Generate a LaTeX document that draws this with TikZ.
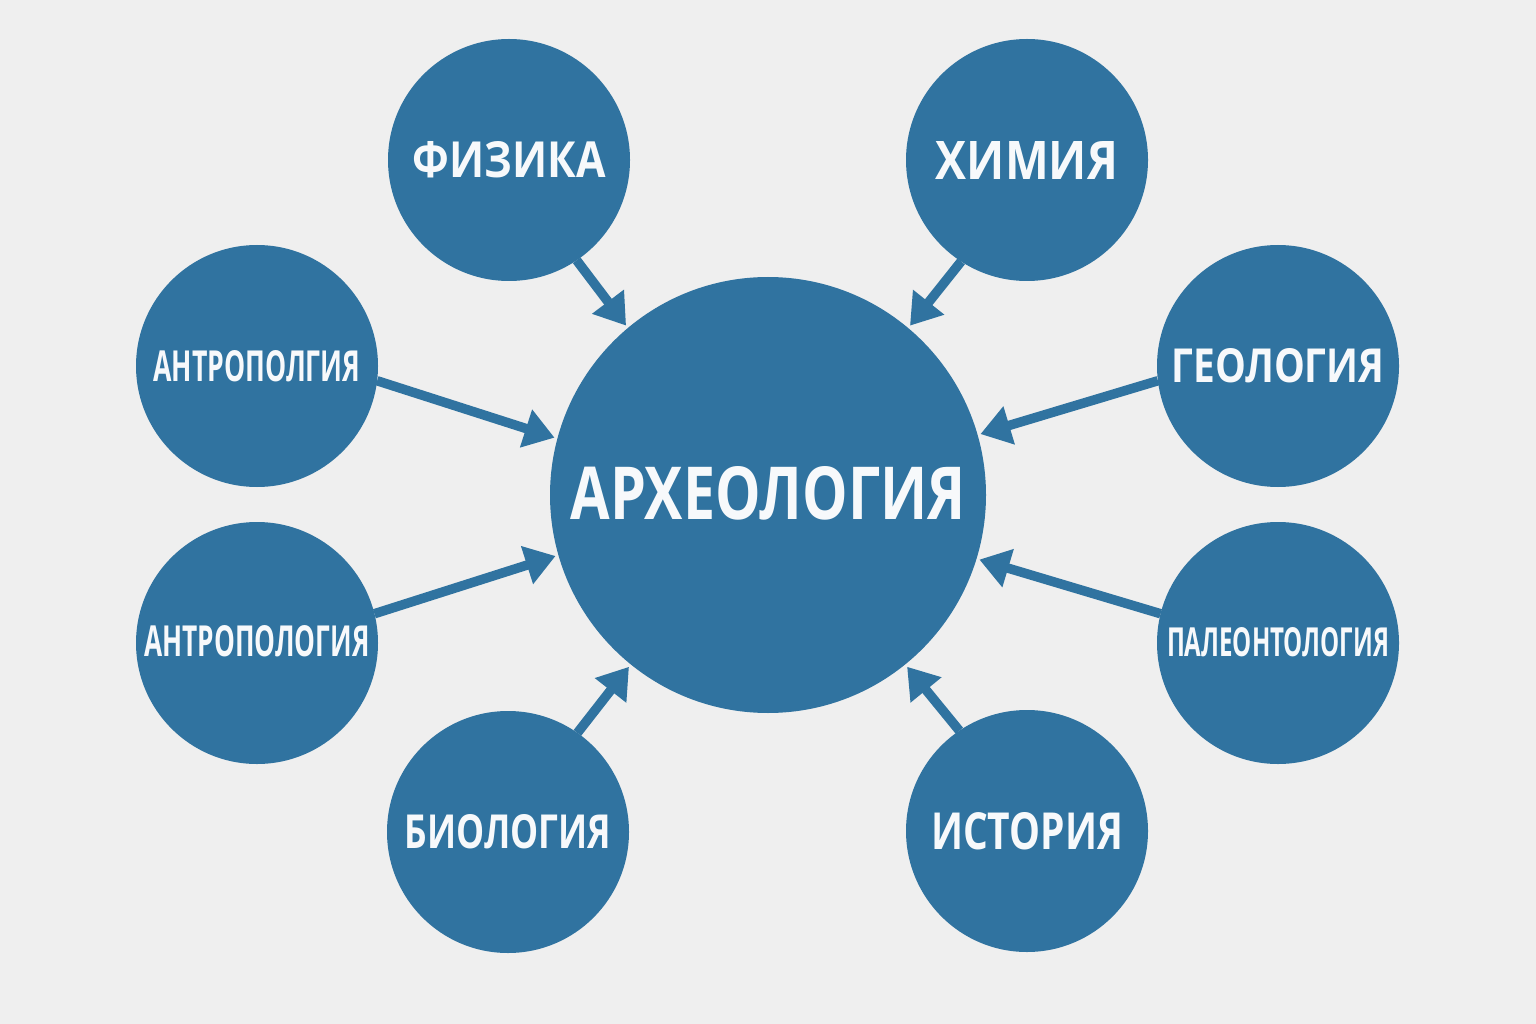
\documentclass[tikz,border=0pt]{standalone}
\usepackage{fontspec}
\setmainfont{Open Sans}
\usepackage{graphicx}
\usetikzlibrary{arrows.meta, positioning}

\definecolor{discblue}{RGB}{48,115,160}
\definecolor{paper}{RGB}{239,239,239}
\newcommand{\fitlabel}[3]{\resizebox{#1pt}{#2pt}{\bfseries #3}}

\begin{document}
\begin{tikzpicture}[x=1pt,y=-1pt]
    \tikzstyle{disc}=[circle,fill=discblue,inner sep=0pt,outer sep=0pt,text=white!96!discblue]
    \tikzstyle{field}=[disc,minimum size=242pt]
    \tikzstyle{link}=[line width=9.5pt,draw=discblue,shorten >=3pt,-{Triangle[width=38pt,length=30pt]}]

    \fill[paper] (0,0) rectangle (1536,1024);

    \node (arch) [disc,minimum size=436pt] at (768,495) {\raisebox{5pt}{\fitlabel{395}{53}{АРХЕОЛОГИЯ}}};

    \node (fiz)  [field] at (509,160)  {\raisebox{-4pt}{\fitlabel{193}{36}{ФИЗИКА}}};
    \node (chem) [field] at (1027,160) {\fitlabel{182}{38}{ХИМИЯ}};
    \node (antl) [field] at (257,366)  {\fitlabel{207}{31}{АНТРОПОЛГИЯ}};
    \node (geo)  [field] at (1278,366) {\fitlabel{213}{34}{ГЕОЛОГИЯ}};
    \node (anto) [field] at (257,643)  {\raisebox{4pt}{\fitlabel{225}{31}{АНТРОПОЛОГИЯ}}};
    \node (pal)  [field] at (1278,643) {\raisebox{3pt}{\fitlabel{222}{29}{ПАЛЕОНТОЛОГИЯ}}};
    \node (bio)  [field] at (508,832)  {\fitlabel{206}{34}{БИОЛОГИЯ}};
    \node (hist) [field] at (1027,831) {\fitlabel{192}{37}{ИСТОРИЯ}};

    \draw [link] (fiz.304)  -- (arch.130);
    \draw [link] (chem.237) -- (arch.50);
    \draw [link] (antl.353) -- (arch.165);
    \draw [link] (anto.14)  -- (arch.196);
    \draw [link] (geo.187)  -- (arch.16);
    \draw [link] (pal.166)  -- (arch.343);
    \draw [link] (bio.55)   -- (arch.231);
    \draw [link] (hist.124) -- (arch.309);
\end{tikzpicture}
\end{document}
